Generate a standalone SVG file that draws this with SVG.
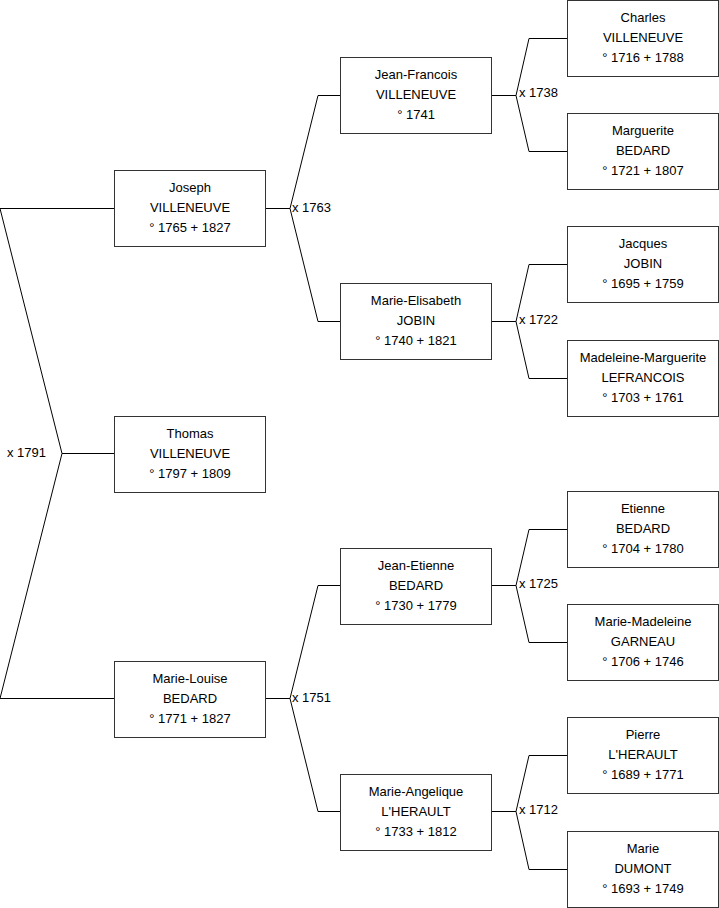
<svg xmlns="http://www.w3.org/2000/svg" width="719" height="908" viewBox="0 0 719 908">
<style>
.box{fill:#fff;stroke:#333;stroke-width:1}
.t{font-family:"Liberation Sans",Arial,sans-serif;font-size:13px;fill:#000;text-anchor:middle}
.lbl{font-family:"Liberation Sans",Arial,sans-serif;font-size:13px;fill:#000}
.c{fill:none;stroke:#000;stroke-width:1}
</style>
<rect x="0" y="0" width="719" height="908" fill="#fff"/>
<g id="connectors">
<path class="c" d="M0,208.5H114.5M0,208.5L62,453.5L0,698.5H114.5M62,453.5H114.5"/>
<path class="c" d="M265.5,208.5H290M318,95.5L290,208.5L318,321.5M318,95.5H340.5M318,321.5H340.5"/>
<path class="c" d="M265.5,698.5H290M318,585.5L290,698.5L318,811.5M318,585.5H340.5M318,811.5H340.5"/>
<path class="c" d="M491.5,95.5H516M529,38.5L516,95.5L529,151.5M529,38.5H567.5M529,151.5H567.5"/>
<path class="c" d="M491.5,321.5H516M529,264.5L516,321.5L529,378.5M529,264.5H567.5M529,378.5H567.5"/>
<path class="c" d="M491.5,585.5H516M529,529.5L516,585.5L529,642.5M529,529.5H567.5M529,642.5H567.5"/>
<path class="c" d="M491.5,811.5H516M529,755.5L516,811.5L529,869.5M529,755.5H567.5M529,869.5H567.5"/>
<text class="lbl" x="7" y="456.5">x 1791</text>
<text class="lbl" x="292" y="211.5">x 1763</text>
<text class="lbl" x="292" y="702">x 1751</text>
<text class="lbl" x="519" y="97">x 1738</text>
<text class="lbl" x="519" y="323.5">x 1722</text>
<text class="lbl" x="519" y="587.5">x 1725</text>
<text class="lbl" x="519" y="814">x 1712</text>
</g>
<g id="joseph"><rect class="box" x="114.5" y="170.5" width="151" height="76"/><text class="t" x="190" y="191.5">Joseph</text><text class="t" x="190" y="211.5">VILLENEUVE</text><text class="t" x="190" y="231.5">° 1765 + 1827</text></g>
<g id="thomas"><rect class="box" x="114.5" y="416.5" width="151" height="76"/><text class="t" x="190" y="437.5">Thomas</text><text class="t" x="190" y="457.5">VILLENEUVE</text><text class="t" x="190" y="477.5">° 1797 + 1809</text></g>
<g id="marie-louise"><rect class="box" x="114.5" y="661.5" width="151" height="76"/><text class="t" x="190" y="682.5">Marie-Louise</text><text class="t" x="190" y="702.5">BEDARD</text><text class="t" x="190" y="722.5">° 1771 + 1827</text></g>
<g id="jean-francois"><rect class="box" x="340.5" y="57.5" width="151" height="76"/><text class="t" x="416" y="78.5">Jean-Francois</text><text class="t" x="416" y="98.5">VILLENEUVE</text><text class="t" x="416" y="118.5">° 1741</text></g>
<g id="marie-elisabeth"><rect class="box" x="340.5" y="283.5" width="151" height="76"/><text class="t" x="416" y="304.5">Marie-Elisabeth</text><text class="t" x="416" y="324.5">JOBIN</text><text class="t" x="416" y="344.5">° 1740 + 1821</text></g>
<g id="jean-etienne"><rect class="box" x="340.5" y="548.5" width="151" height="76"/><text class="t" x="416" y="569.5">Jean-Etienne</text><text class="t" x="416" y="589.5">BEDARD</text><text class="t" x="416" y="609.5">° 1730 + 1779</text></g>
<g id="marie-angelique"><rect class="box" x="340.5" y="774.5" width="151" height="76"/><text class="t" x="416" y="795.5">Marie-Angelique</text><text class="t" x="416" y="815.5">L'HERAULT</text><text class="t" x="416" y="835.5">° 1733 + 1812</text></g>
<g id="charles"><rect class="box" x="567.5" y="0.5" width="151" height="76"/><text class="t" x="643" y="21.5">Charles</text><text class="t" x="643" y="41.5">VILLENEUVE</text><text class="t" x="643" y="61.5">° 1716 + 1788</text></g>
<g id="marguerite"><rect class="box" x="567.5" y="113.5" width="151" height="76"/><text class="t" x="643" y="134.5">Marguerite</text><text class="t" x="643" y="154.5">BEDARD</text><text class="t" x="643" y="174.5">° 1721 + 1807</text></g>
<g id="jacques"><rect class="box" x="567.5" y="226.5" width="151" height="76"/><text class="t" x="643" y="247.5">Jacques</text><text class="t" x="643" y="267.5">JOBIN</text><text class="t" x="643" y="287.5">° 1695 + 1759</text></g>
<g id="madeleine-marguerite"><rect class="box" x="567.5" y="340.5" width="151" height="76"/><text class="t" x="643" y="361.5">Madeleine-Marguerite</text><text class="t" x="643" y="381.5">LEFRANCOIS</text><text class="t" x="643" y="401.5">° 1703 + 1761</text></g>
<g id="etienne"><rect class="box" x="567.5" y="491.5" width="151" height="76"/><text class="t" x="643" y="512.5">Etienne</text><text class="t" x="643" y="532.5">BEDARD</text><text class="t" x="643" y="552.5">° 1704 + 1780</text></g>
<g id="marie-madeleine"><rect class="box" x="567.5" y="604.5" width="151" height="76"/><text class="t" x="643" y="625.5">Marie-Madeleine</text><text class="t" x="643" y="645.5">GARNEAU</text><text class="t" x="643" y="665.5">° 1706 + 1746</text></g>
<g id="pierre"><rect class="box" x="567.5" y="717.5" width="151" height="76"/><text class="t" x="643" y="738.5">Pierre</text><text class="t" x="643" y="758.5">L'HERAULT</text><text class="t" x="643" y="778.5">° 1689 + 1771</text></g>
<g id="marie"><rect class="box" x="567.5" y="831.5" width="151" height="76"/><text class="t" x="643" y="852.5">Marie</text><text class="t" x="643" y="872.5">DUMONT</text><text class="t" x="643" y="892.5">° 1693 + 1749</text></g>
</svg>
